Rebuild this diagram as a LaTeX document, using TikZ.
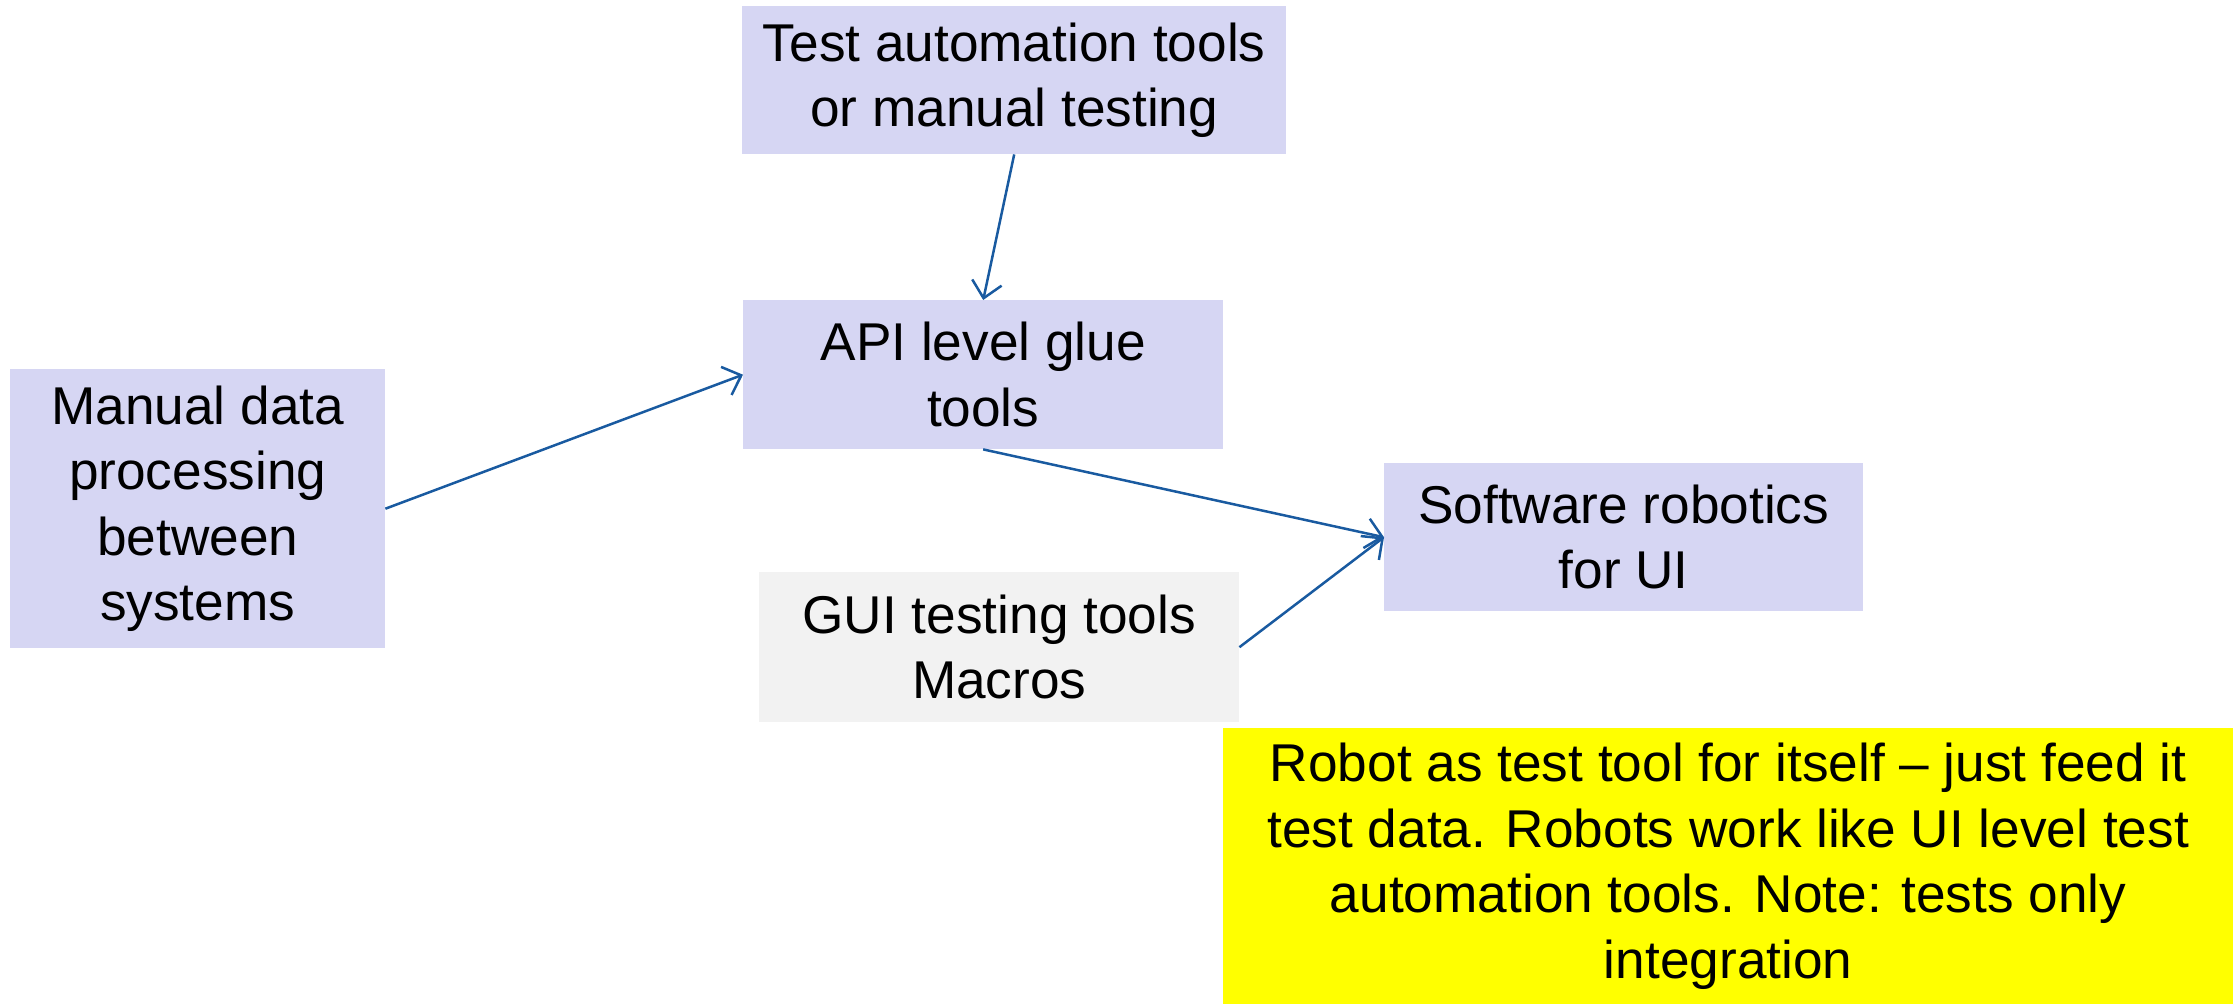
\documentclass[tikz,border=0pt]{standalone}
\usepackage{fontspec}
\setmainfont{Liberation Sans}
\usetikzlibrary{arrows.meta}
\definecolor{lav}{RGB}{214,214,243}
\definecolor{grayb}{RGB}{242,242,242}
\definecolor{noteyellow}{RGB}{255,255,0}
\definecolor{conn}{RGB}{25,90,160}
\begin{document}
\begin{tikzpicture}[x=1pt,y=-1pt,
  box/.style={rectangle, inner sep=0pt, align=center, anchor=north west,
    font=\fontsize{53.2}{65.5}\selectfont},
  conn/.style={draw=conn, line width=2.5pt, -{Straight Barb[length=16pt,width=30pt,line width=2.5pt]}}]
\useasboundingbox (0,0) rectangle (2233,1004);
\node[box, fill=lav, minimum width=544pt, minimum height=148pt] (top) at (742,6)
  {Test automation tools\\or manual testing};
\node[box, fill=lav, minimum width=480pt, minimum height=149pt] (api) at (743,300)
  {API level glue\\tools};
\node[box, fill=lav, minimum width=375pt, minimum height=279pt] (manual) at (10,369)
  {Manual data\\processing\\between\\systems};
\node[box, fill=lav, minimum width=479pt, minimum height=148pt] (soft) at (1384,463)
  {Software robotics\\for UI};
\node[box, fill=grayb, minimum width=480pt, minimum height=150pt] (gui) at (759,572)
  {GUI testing tools\\Macros};
\node[box, fill=noteyellow, minimum width=1010pt, minimum height=276pt] (note) at (1223,728)
  {Robot as test tool for itself -- just feed it\\test data. Robots work like UI level test\\automation tools. Note: tests only\\integration};
\draw[conn] (top.south) -- (api.north);
\draw[conn] (manual.east) -- (api.west);
\draw[conn] (api.south) -- (soft.west);
\draw[conn] (gui.east) -- (soft.west);
\end{tikzpicture}
\end{document}
